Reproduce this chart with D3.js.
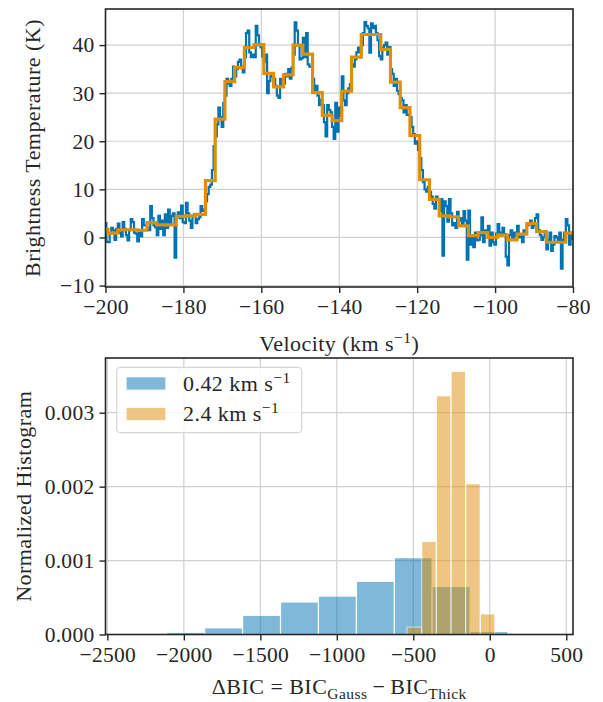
<!DOCTYPE html>
<html>
<head>
<meta charset="utf-8">
<script src="https://cdn.jsdelivr.net/npm/d3@7"></script>
<style>
  html, body { margin: 0; padding: 0; background: #fff; }
  svg text { font-family: "Liberation Serif", "DejaVu Serif", serif; fill: #262626; }
  .lab { letter-spacing: 0.45px; }
</style>
</head>
<body>
<svg id="chart" width="603" height="702"></svg>
<script>
// ---------------- DATA ----------------
// Top panel: spectrum. Smoothed (orange) channels, 2.5 km/s wide, first channel starts at -201.85 km/s
const smoothStart = -201.85;
const smoothWidth = 2.5;
const smoothT = [1.7, 0.9, 1.6, 1.6, 1.5, 3.1, 2.6, 2.6, 4.4, 4.5,
  4.8, 11.8, 24.6, 32.4, 35.3, 39.5, 40.1, 34.1, 31.3, 33.8,
  40.0, 38.1, 30.1, 25.4, 24.3, 30.4, 37.5, 42.2, 42.2, 39.1,
  32.3, 27.0, 21.2, 12.0, 7.9, 4.5, 4.3, 2.4, 0.4, 1.0,
  0.0, 0.5, -0.5, 0.7, 2.9, 1.2, -1.0, -1.0, 0.9, 0.9];
// Native resolution (blue): 6 channels per smoothed channel
const nativePerSmooth = 6;
const nativeT = [
  1.5, 2.0, 1.0, 4.2, 3.0, -0.9,
  -1.0, 0.8, 2.0, 1.5, -0.5, 1.8,
  2.9, 1.0, 0.2, 3.2, 1.8, 0.5,
  -0.6, 1.5, 3.8, 3.2, 1.0, 0.8,
  -0.8, 1.0, 0.2, 3.8, 2.5, 2.5,
  2.0, 1.5, 6.5, 4.0, 2.5, 2.1,
  0.5, 4.5, 1.8, 3.5, 0.5, 4.8,
  2.0, 5.8, 3.0, 4.5, 5.0, -4.2,
  4.5, 5.2, 4.0, 6.6, 3.2, 3.0,
  7.2, 5.0, 3.5, 2.0, 4.5, 4.8,
  3.0, 3.8, 4.2, 6.5, 5.5, 5.8,
  7.5, 9.0, 10.5, 11.0, 14.0, 19.0,
  21.0, 23.5, 27.0, 25.0, 23.0, 28.0,
  29.5, 33.0, 32.0, 31.5, 33.0, 35.5,
  33.5, 35.0, 36.5, 37.0, 35.5, 34.3,
  37.5, 42.5, 43.0, 38.5, 37.5, 38.0,
  37.5, 44.0, 42.0, 40.0, 39.5, 37.6,
  36.5, 38.0, 30.0, 32.5, 33.5, 34.1,
  33.0, 31.5, 29.5, 29.0, 33.0, 31.8,
  32.0, 34.0, 33.5, 35.0, 33.0, 35.3,
  38.0, 44.7, 43.0, 40.0, 37.0, 37.3,
  41.5, 37.5, 42.5, 36.0, 35.5, 35.6,
  33.0, 30.5, 31.5, 29.5, 27.5, 28.6,
  27.5, 24.0, 21.0, 27.5, 26.5, 26.0,
  23.0, 20.5, 28.0, 22.0, 27.0, 25.3,
  33.5, 28.5, 27.5, 30.0, 31.0, 31.9,
  36.0, 35.5, 37.0, 38.5, 39.5, 38.5,
  40.0, 42.5, 44.8, 44.0, 43.5, 38.4,
  44.5, 43.5, 44.0, 42.5, 41.0, 37.7,
  37.0, 39.5, 40.0, 40.5, 38.0, 39.6,
  35.0, 34.0, 31.5, 33.0, 30.5, 29.8,
  29.0, 28.5, 26.0, 27.5, 25.5, 25.5,
  25.0, 23.0, 21.5, 19.5, 20.0, 18.2,
  16.5, 14.0, 11.5, 10.0, 9.5, 10.5,
  9.5, 8.5, 7.0, 6.0, 8.5, 7.9,
  5.5, 8.0, -3.8, 7.5, 6.5, 3.3,
  8.0, 5.0, 2.5, 3.0, 2.0, 5.3,
  3.5, 4.0, 2.5, 5.5, 3.5, -4.6,
  5.6, -1.5, 0.0, -2.0, 1.0, -0.6,
  -0.5, 0.5, 4.2, -1.0, 1.5, 1.3,
  2.4, -1.7, 1.0, -1.0, -1.5, 0.8,
  2.8, 1.0, 0.5, 2.0, 0.7, -4.0,
  -5.8, 0.5, 1.5, -0.5, 1.0, 0.3,
  2.4, 0.0, 0.5, -1.0, 1.5, 0.8,
  2.5, 3.0, 3.5, 2.0, 2.5, 4.0,
  4.8, 1.5, 0.5, -0.5, 0.0, 0.9,
  -2.5, -0.5, 1.0, -2.8, -1.5, 0.3,
  0.0, -1.0, 1.0, -6.5, -0.5, 1.0,
  3.8, 2.5, -1.5, 1.0, -0.3, 0.0,
  0.5, 1.0, 1.5, 0.5, 1.0, 0.9];

const velTicks = [-200, -180, -160, -140, -120, -100, -80];
const tempTicks = [-10, 0, 10, 20, 30, 40];

// Bottom panel: normalized histograms of ΔBIC
const series = ["0.42 km s", "2.4 km s"];
const blueBinEdges = [-2112, -1864, -1616, -1368, -1120, -872, -624, -377, -129, 119];
const blueDensity = [0.00003, 0.00009, 0.00026, 0.00044, 0.00052, 0.00072, 0.00104, 0.00065, 0.00004];
const orangeBinEdges = [-541, -445.2, -349.4, -253.6, -157.8, -62, 33.8];
const orangeDensity = [0.0001, 0.00126, 0.00323, 0.00356, 0.00204, 0.00028];

const bicTicks = [-2500, -2000, -1500, -1000, -500, 0, 500];
const densTicks = [0, 0.001, 0.002, 0.003];

// ---------------- STYLE / LAYOUT ----------------
const BLUE = "#0173b2", ORANGE = "#de8f05";
const INK = "#262626", GRID = "#d0d0d0";
const FS = 21.5, LFS = 22, SFS = 15.5;

const svg = d3.select("#chart");
const boxTop = {l: 105.5, r: 573, t: 9, b: 287};
const boxBot = {l: 105.5, r: 573, t: 358, b: 634.5};

const xTop = d3.scaleLinear().domain([-200, -80]).range([boxTop.l, boxTop.r]);
const yTop = d3.scaleLinear().domain([-10.3, 47.5]).range([boxTop.b, boxTop.t]);
const xBot = d3.scaleLinear().domain([-2512, 544]).range([boxBot.l, boxBot.r]);
const yBot = d3.scaleLinear().domain([0, 0.00374]).range([boxBot.b, boxBot.t]);

const fmtInt = d3.format("d");
function minusFmt(f) { return v => f(v).replace("-", "\u2212"); }

function panel(box, x, y, xt, yt) {
  const g = svg.append("g");
  g.append("g").selectAll("line").data(xt).join("line")
    .attr("x1", d => x(d)).attr("x2", d => x(d))
    .attr("y1", box.t).attr("y2", box.b)
    .attr("stroke", GRID).attr("stroke-width", 1.2);
  g.append("g").selectAll("line").data(yt).join("line")
    .attr("x1", box.l).attr("x2", box.r)
    .attr("y1", d => y(d)).attr("y2", d => y(d))
    .attr("stroke", GRID).attr("stroke-width", 1.2);
  return g;
}

function axes(box, x, y, xt, yt, xf, yf) {
  const ax = svg.append("g").attr("transform", `translate(0,${box.b})`)
    .call(d3.axisBottom(x).tickValues(xt).tickFormat(xf).tickSize(6).tickPadding(6));
  const ay = svg.append("g").attr("transform", `translate(${box.l},0)`)
    .call(d3.axisLeft(y).tickValues(yt).tickFormat(yf).tickSize(6).tickPadding(5));
  [ax, ay].forEach(a => {
    a.select(".domain").remove();
    a.selectAll(".tick line").attr("stroke", INK).attr("stroke-width", 1.4);
    a.selectAll(".tick text").style("font-size", FS + "px")
      .style("font-family", "'Liberation Serif', serif").style("letter-spacing", "0.3px").attr("fill", INK);
  });
  svg.append("rect").attr("x", box.l).attr("y", box.t)
    .attr("width", box.r - box.l).attr("height", box.b - box.t)
    .attr("fill", "none").attr("stroke", INK).attr("stroke-width", 1.6);
}

// ---------------- TOP PANEL ----------------
panel(boxTop, xTop, yTop, velTicks, tempTicks);
svg.append("clipPath").attr("id", "clipTop").append("rect")
  .attr("x", boxTop.l).attr("y", boxTop.t).attr("width", boxTop.r - boxTop.l).attr("height", boxTop.b - boxTop.t);

const nativeWidth = smoothWidth / nativePerSmooth;
const nativePts = nativeT.map((t, i) => [smoothStart + nativeWidth * (i + 0.5), t]);
const smoothPts = smoothT.map((t, i) => [smoothStart + smoothWidth * (i + 0.5), t]);

const lineTop = d3.line().x(d => xTop(d[0])).y(d => yTop(d[1])).curve(d3.curveStep);
const gl = svg.append("g").attr("clip-path", "url(#clipTop)");
gl.append("path").datum(nativePts).attr("d", lineTop)
  .attr("fill", "none").attr("stroke", BLUE).attr("stroke-width", 2.2).attr("stroke-linejoin", "miter");
gl.append("path").datum(smoothPts).attr("d", lineTop)
  .attr("fill", "none").attr("stroke", ORANGE).attr("stroke-width", 3.2).attr("stroke-linejoin", "miter");

axes(boxTop, xTop, yTop, velTicks, tempTicks, minusFmt(fmtInt), minusFmt(fmtInt));

const xl1 = svg.append("text").attr("class", "lab").attr("x", (boxTop.l + boxTop.r) / 2).attr("y", 351)
  .attr("text-anchor", "middle").style("font-size", LFS + "px");
xl1.append("tspan").text("Velocity (km s");
xl1.append("tspan").attr("dy", -8).style("font-size", SFS + "px").text("\u22121");
xl1.append("tspan").attr("dy", 8).text(")");

svg.append("text").attr("class", "lab").attr("transform", `translate(32,${(boxTop.t + boxTop.b) / 2}) rotate(-90)`)
  .attr("text-anchor", "middle").attr("dy", "0.35em").style("font-size", LFS + "px")
  .text("Brightness Temperature (K)");

// ---------------- BOTTOM PANEL ----------------
panel(boxBot, xBot, yBot, bicTicks, densTicks);

function bars(edges, dens, color) {
  const data = dens.map((d, i) => ({x0: edges[i], x1: edges[i + 1], h: d}));
  svg.append("g").selectAll("rect").data(data).join("rect")
    .attr("x", d => xBot(d.x0)).attr("width", d => xBot(d.x1) - xBot(d.x0))
    .attr("y", d => yBot(d.h)).attr("height", d => yBot(0) - yBot(d.h))
    .attr("fill", color).attr("stroke", "#fff").attr("stroke-width", 1.2)
    .attr("opacity", 0.5);
}
bars(blueBinEdges, blueDensity, BLUE);
bars(orangeBinEdges, orangeDensity, ORANGE);

axes(boxBot, xBot, yBot, bicTicks, densTicks, minusFmt(fmtInt), d3.format(".3f"));

const lg = svg.append("g");
lg.append("rect").attr("x", 116.7).attr("y", 367.3).attr("width", 185).attr("height", 65.4)
  .attr("rx", 4).attr("fill", "#fff").attr("fill-opacity", 0.8)
  .attr("stroke", "#d6d6d6").attr("stroke-width", 1.2);
[BLUE, ORANGE].forEach((c, i) => {
  const yy = 376.7 + i * 30.6;
  lg.append("rect").attr("x", 126).attr("y", yy).attr("width", 40).attr("height", 13.5)
    .attr("fill", c).attr("stroke", "#fff").attr("stroke-width", 1.2).attr("opacity", 0.5);
  const t = lg.append("text").attr("class", "lab").attr("x", 183).attr("y", yy + 14).style("font-size", LFS + "px");
  t.append("tspan").text(series[i]);
  t.append("tspan").attr("dy", -8).style("font-size", SFS + "px").text("\u22121");
});

const xl2 = svg.append("text").attr("class", "lab").attr("x", (boxBot.l + boxBot.r) / 2).attr("y", 694)
  .attr("text-anchor", "middle").style("font-size", LFS + "px");
xl2.append("tspan").text("\u0394BIC");
xl2.append("tspan").attr("dx", 6).text("=");
xl2.append("tspan").attr("dx", 6).text("BIC");
xl2.append("tspan").attr("dy", 5).style("font-size", SFS + "px").text("Gauss");
xl2.append("tspan").attr("dy", -5).attr("dx", 5).text("\u2212");
xl2.append("tspan").attr("dx", 5).text("BIC");
xl2.append("tspan").attr("dy", 5).style("font-size", SFS + "px").text("Thick");

svg.append("text").attr("class", "lab").attr("transform", `translate(23,${(boxBot.t + boxBot.b) / 2}) rotate(-90)`)
  .attr("text-anchor", "middle").attr("dy", "0.35em").style("font-size", LFS + "px")
  .text("Normalized Histogram");
</script>
</body>
</html>
